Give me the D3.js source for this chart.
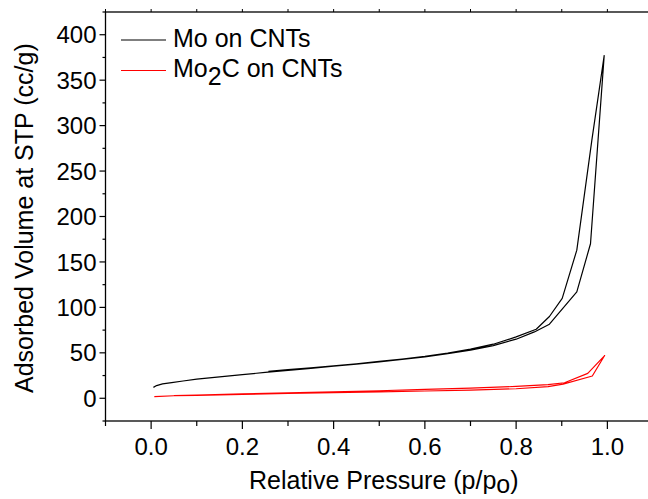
<!DOCTYPE html>
<html>
<head>
<meta charset="utf-8">
<script src="https://cdn.jsdelivr.net/npm/d3@7"></script>
<style>
  body { margin: 0; background: #fff; }
  svg { display: block; }
  text { font-family: "Liberation Sans", Arial, sans-serif; fill: #000; }
</style>
</head>
<body>
<svg id="chart" width="648" height="499"></svg>
<script>
// Mo on CNTs - adsorption branch
const moAdsP = [0.005, 0.012, 0.025, 0.045, 0.07, 0.1, 0.15, 0.2, 0.25, 0.3, 0.35, 0.4, 0.45, 0.5, 0.55, 0.6, 0.65, 0.7, 0.75, 0.8, 0.84, 0.873, 0.933, 0.963, 0.993];
const moAdsV = [12, 14, 15.8, 17.2, 19, 21, 23.5, 26, 28.5, 30.8, 33, 35.3, 37.6, 40, 42.7, 45.6, 49, 53, 58, 65, 73, 81.5, 117, 170, 377];
// Mo on CNTs - desorption branch
const moDesP = [0.993, 0.966, 0.933, 0.901, 0.873, 0.844, 0.8, 0.75, 0.7, 0.65, 0.6, 0.55, 0.5, 0.45, 0.4, 0.35, 0.3, 0.257];
const moDesV = [377, 284, 163, 110, 90, 76, 67.5, 59.5, 54, 49.8, 46.2, 43.2, 40.5, 38, 35.8, 33.6, 31.5, 29.6];

// Mo2C on CNTs - adsorption branch
const mo2cAdsP = [0.007, 0.05, 0.1, 0.15, 0.2, 0.25, 0.3, 0.4, 0.5, 0.6, 0.7, 0.8, 0.87, 0.903, 0.967, 0.994];
const mo2cAdsV = [1.8, 2.8, 3.3, 3.8, 4.3, 4.8, 5.3, 6.2, 7.1, 8, 9, 10.5, 12.8, 15.5, 24.5, 47];
// Mo2C on CNTs - desorption branch
const mo2cDesP = [0.994, 0.957, 0.906, 0.87, 0.8, 0.7, 0.6, 0.5, 0.4, 0.3, 0.2, 0.1, 0.05];
const mo2cDesV = [47, 27.4, 17.1, 15, 13, 11.2, 9.8, 8.3, 7, 5.9, 4.8, 3.6, 3.0];

const xTicks = [0.0, 0.2, 0.4, 0.6, 0.8, 1.0];
const xMinor = [-0.1, 0.1, 0.3, 0.5, 0.7, 0.9, 1.1];
const yTicks = [0, 50, 100, 150, 200, 250, 300, 350, 400];
const yMinor = [-25, 25, 75, 125, 175, 225, 275, 325, 375, 425];

const series = [
  {name: 'Mo on CNTs', color: '#000', p: moAdsP.concat(moDesP), v: moAdsV.concat(moDesV)},
  {name: 'Mo2C on CNTs', color: '#ff0000', p: mo2cAdsP.concat(mo2cDesP), v: mo2cAdsV.concat(mo2cDesV)}
];

const svg = d3.select('#chart');
const plot = {left: 105.5, right: 653, top: 12, bottom: 421};

const x = d3.scaleLinear().domain([-0.1, 1.1]).range([plot.left, plot.right]);
const y = d3.scaleLinear().domain([-25, 425]).range([plot.bottom, plot.top]);

// frame
svg.append('rect')
  .attr('x', plot.left).attr('y', plot.top)
  .attr('width', plot.right - plot.left).attr('height', plot.bottom - plot.top)
  .attr('fill', 'none').attr('stroke', '#000').attr('stroke-width', 1.3);

// bottom axis
const xAxis = svg.append('g').attr('transform', `translate(0,${plot.bottom})`);
xAxis.selectAll('line.major').data(xTicks).join('line')
  .attr('class', 'major')
  .attr('x1', d => x(d)).attr('x2', d => x(d))
  .attr('y1', 0).attr('y2', 8)
  .attr('stroke', '#000').attr('stroke-width', 1.2);
xAxis.selectAll('line.minor').data(xMinor).join('line')
  .attr('class', 'minor')
  .attr('x1', d => x(d)).attr('x2', d => x(d))
  .attr('y1', 0).attr('y2', 5)
  .attr('stroke', '#000').attr('stroke-width', 1.2);
xAxis.selectAll('text').data(xTicks).join('text')
  .attr('x', d => x(d)).attr('y', 34)
  .attr('text-anchor', 'middle')
  .style('font-size', '24px')
  .text(d => d.toFixed(1));

// top axis ticks
svg.append('g').selectAll('line').data(xTicks.concat(xMinor)).join('line')
  .attr('x1', d => x(d)).attr('x2', d => x(d))
  .attr('y1', plot.top).attr('y2', plot.top - 3)
  .attr('stroke', '#000').attr('stroke-width', 1);

// left axis
const yAxis = svg.append('g').attr('transform', `translate(${plot.left},0)`);
yAxis.selectAll('line.major').data(yTicks).join('line')
  .attr('class', 'major')
  .attr('x1', 0).attr('x2', -6)
  .attr('y1', d => y(d)).attr('y2', d => y(d))
  .attr('stroke', '#000').attr('stroke-width', 1.2);
yAxis.selectAll('line.minor').data(yMinor).join('line')
  .attr('class', 'minor')
  .attr('x1', 0).attr('x2', -3)
  .attr('y1', d => y(d)).attr('y2', d => y(d))
  .attr('stroke', '#000').attr('stroke-width', 1.2);
yAxis.selectAll('text').data(yTicks).join('text')
  .attr('x', -9).attr('y', d => y(d))
  .attr('dy', '0.36em')
  .attr('text-anchor', 'end')
  .style('font-size', '24px')
  .text(d => d);

// axis titles
const xt = svg.append('text')
  .attr('x', 249).attr('y', 489)
  .style('font-size', '25px');
xt.append('tspan').text('Relative Pressure (p/p');
xt.append('tspan').attr('dy', 4).text('o');
xt.append('tspan').attr('dy', -4).text(')');

svg.append('text')
  .attr('transform', 'translate(33,393) rotate(-90)')
  .style('font-size', '25px')
  .text('Adsorbed Volume at STP (cc/g)');

// curves
const line = d3.line()
  .x(d => x(d[0]))
  .y(d => y(d[1]));

series.forEach(s => {
  svg.append('path')
    .datum(d3.zip(s.p, s.v))
    .attr('d', line)
    .attr('fill', 'none')
    .attr('stroke', s.color)
    .attr('stroke-width', 1.2)
    .attr('stroke-linejoin', 'round');
});

// legend
const legend = svg.append('g');
series.forEach((s, i) => {
  const ly = 40 + i * 30.5;
  legend.append('line')
    .attr('x1', 121).attr('x2', 166)
    .attr('y1', ly).attr('y2', ly)
    .attr('stroke', s.color).attr('stroke-width', 1.2);
  const t = legend.append('text')
    .attr('x', 173).attr('y', ly + 6.5)
    .style('font-size', '25px');
  if (i === 0) {
    t.text(s.name);
  } else {
    t.append('tspan').text('Mo');
    t.append('tspan').attr('dy', 8).text('2');
    t.append('tspan').attr('dy', -8).text('C on CNTs');
  }
});
</script>
</body>
</html>
